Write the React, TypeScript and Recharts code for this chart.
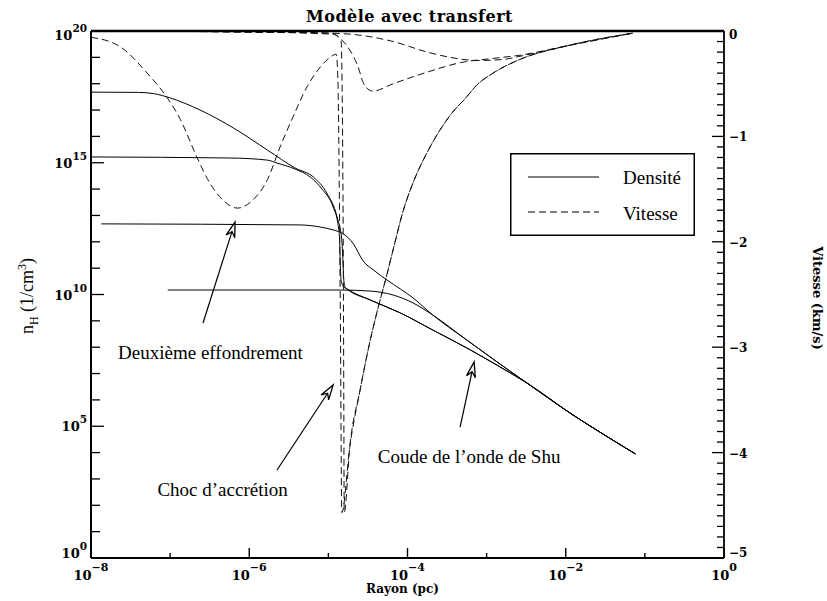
import React from "react";
import {
  LineChart,
  Line,
  XAxis,
  YAxis,
  ReferenceLine,
  ReferenceDot,
  Legend,
} from "recharts";

const W = 827;
const H = 601;
const HERSHEY = "'DejaVu Serif', 'Liberation Serif', serif";
const TIMES = "'Liberation Serif', 'Times New Roman', serif";
const DASH = "7 4";

// ── Data: x = log10(rayon / pc), y = log10(nH) or vitesse (km/s) ─────────────
// density tails shared by several profiles
const upperEnvelope = [
  [-3.93, 9.87], [-3.68, 9.22], [-3.25, 8.27], [-2.83, 7.36],
  [-2.49, 6.64], [-1.91, 5.43], [-1.57, 4.78], [-1.12, 3.95],
];
const lowerEnvelope = [
  [-4.76, 10.2], [-4.47, 9.79], [-4.09, 9.3], [-3.68, 8.65], [-3.25, 7.97],
  [-2.83, 7.25], [-2.49, 6.64], [-1.91, 5.43], [-1.57, 4.78], [-1.12, 3.95],
];

const densityP1 = [
  [-7.03, 10.17], [-4.85, 10.17], [-4.47, 10.13], [-4.18, 9.98], [-3.93, 9.68],
  [-3.68, 9.22], [-3.25, 8.27], [-2.83, 7.36], [-2.49, 6.64], [-1.91, 5.43],
  [-1.57, 4.78], [-1.12, 3.95],
];
const densityP2 = [
  [-7.87, 12.68], [-5.36, 12.64], [-5.1, 12.56], [-4.94, 12.45], [-4.81, 12.3],
  [-4.69, 11.95], [-4.56, 11.27], [-4.43, 10.93], [-4.26, 10.55], [-4.09, 10.21],
  ...upperEnvelope,
];
const densityP3 = [
  [-8, 15.22], [-6.24, 15.18], [-5.77, 15.1], [-5.65, 14.99], [-5.42, 14.76],
  [-5.23, 14.46], [-5.08, 14.0], [-4.94, 13.32], [-4.88, 12.7], [-4.86, 12.2],
  [-4.85, 11.2], [-4.84, 10.55], [-4.81, 10.3],
  ...lowerEnvelope,
];
const densityP4 = [
  [-8, 17.68], [-7.4, 17.67], [-7.2, 17.62], [-7.0, 17.46], [-6.62, 17.0],
  [-6.2, 16.32], [-5.77, 15.48], [-5.42, 14.8], [-5.19, 14.46], [-5.02, 13.85],
  [-4.89, 12.94], [-4.83, 12.07], [-4.815, 11.2], [-4.805, 10.55], [-4.79, 10.28],
  ...lowerEnvelope,
];

// velocity after the accretion shock (shared by the two last profiles)
const infallBranch = [
  [-4.73, -3.95], [-4.6, -3.41], [-4.47, -2.93], [-4.38, -2.65], [-4.26, -2.31],
  [-4.16, -2.01], [-4.06, -1.72], [-3.93, -1.44], [-3.75, -1.15], [-3.59, -0.94],
  [-3.44, -0.78], [-3.27, -0.64], [-3.12, -0.51], [-2.92, -0.4], [-2.58, -0.27],
  [-1.98, -0.14], [-1.15, -0.02],
];

const velocityA = [
  [-7.03, 0], [-5.99, -0.01], [-4.98, -0.02], [-4.6, -0.04], [-4.18, -0.1],
  [-3.75, -0.2], [-3.46, -0.25], [-3.12, -0.28], [-2.79, -0.27], [-2.58, -0.24],
  [-1.98, -0.14], [-1.15, -0.02],
];
const velocityB = [
  [-7.87, 0], [-5.99, -0.01], [-4.98, -0.02], [-4.83, -0.085], [-4.73, -0.18],
  [-4.62, -0.35], [-4.56, -0.49], [-4.5, -0.55], [-4.44, -0.57], [-4.18, -0.5],
  [-3.75, -0.39], [-3.33, -0.3], [-2.92, -0.26], [-2.58, -0.23], [-1.98, -0.14],
  [-1.15, -0.02],
];
const velocityC = [
  [-8, 0], [-5.99, -0.01], [-4.94, -0.03], [-4.84, -0.085], [-4.815, -1.6],
  [-4.805, -3.5], [-4.8, -4.57],
  ...infallBranch,
];
const velocityD = [
  [-8, -0.06], [-7.63, -0.15], [-7.29, -0.4], [-7.04, -0.63], [-6.87, -0.84],
  [-6.66, -1.2], [-6.5, -1.44], [-6.31, -1.62], [-6.15, -1.68], [-5.95, -1.6],
  [-5.77, -1.41], [-5.61, -1.1], [-5.45, -0.82], [-5.27, -0.53], [-5.1, -0.34],
  [-4.98, -0.25], [-4.9, -0.22], [-4.88, -0.46], [-4.85, -2.55], [-4.83, -4.57],
  ...infallBranch,
];

const densitySeries = [densityP1, densityP2, densityP3, densityP4];
const velocitySeries = [velocityA, velocityB, velocityC, velocityD];

const radiusTicks = [-8, -7, -6, -5, -4, -3, -2, -1, 0];
const densityTicks = [0, 1, 2, 3, 4, 5, 6, 7, 8, 9, 10, 11, 12, 13, 14, 15, 16, 17, 18, 19, 20];
const velocityTicks = Array.from({ length: 51 }, (_, i) => Math.round((-5 + i * 0.1) * 10) / 10);

const arrows = [
  { from: [-6.584, 8.92], to: [-6.18, 12.75] },
  { from: [-5.649, 3.34], to: [-4.94, 6.57] },
  { from: [-3.335, 4.97], to: [-3.158, 7.44] },
];
const notes = [
  { text: "Deuxième effondrement", at: [-6.49, 7.78] },
  { text: "Choc d’accrétion", at: [-6.337, 2.58] },
  { text: "Coude de l’onde de Shu", at: [-3.221, 3.83] },
];
const legendItems = [
  { label: "Densité", dash: undefined },
  { label: "Vitesse", dash: DASH },
];

const toPts = (a: number[][]) => a.map(([r, y]) => ({ r, y }));
const minus = (v: number) => (v < 0 ? "\u2212" + Math.abs(v) : String(v));

// ── Ticks ─────────────────────────────────────────────────────────────────────
function BottomTick({ x, y, payload }: any) {
  const v = payload.value;
  const major = v % 2 === 0;
  return (
    <g>
      <line x1={x} x2={x} y1={y} y2={y - (major ? 10 : 5)} stroke="#000" strokeWidth={1.4} />
      {major && (
        <text x={x} y={y + 22} textAnchor="middle" fontFamily={HERSHEY} fontWeight="bold" fontSize={13} fill="#000">
          10<tspan dy={-9} fontSize={11}>{minus(v)}</tspan>
        </text>
      )}
    </g>
  );
}

function TopTick({ x, y, payload }: any) {
  const major = payload.value % 2 === 0;
  return <line x1={x} x2={x} y1={y} y2={y + (major ? 11 : 5)} stroke="#000" strokeWidth={1.4} />;
}

function DensityTick({ x, y, payload }: any) {
  const v = payload.value;
  const major = v % 5 === 0;
  const base = v === 20 ? y + 9 : v === 0 ? y : y + 5;
  return (
    <g>
      <line x1={x} x2={x + (major ? 13 : 9)} y1={y} y2={y} stroke="#000" strokeWidth={1.3} />
      {major && (
        <text x={x - 4} y={base} textAnchor="end" fontFamily={HERSHEY} fontWeight="bold" fontSize={13} fill="#000">
          10<tspan dy={-8} fontSize={10.5}>{v}</tspan>
        </text>
      )}
    </g>
  );
}

function VelocityTick({ x, y, payload }: any) {
  const v = payload.value;
  const major = Number.isInteger(v);
  const base = v === 0 ? y + 8 : v === -5 ? y - 1 : y + 5;
  return (
    <g>
      <line x1={x} x2={x - (major ? 12 : 7)} y1={y} y2={y} stroke="#000" strokeWidth={1.3} />
      {major && (
        <text x={x + 5} y={base} fontFamily={HERSHEY} fontWeight="bold" fontSize={12} fill="#000">
          {minus(v)}
        </text>
      )}
    </g>
  );
}

// ── Axis titles ───────────────────────────────────────────────────────────────
function TitleLabel({ viewBox }: any) {
  return (
    <text x={viewBox.x + viewBox.width / 2 + 2} y={viewBox.y + viewBox.height - 9} textAnchor="middle" fontFamily={HERSHEY} fontWeight="bold" fontSize={16} letterSpacing={0.5} fill="#000">
      Modèle avec transfert
    </text>
  );
}

function RadiusLabel({ viewBox }: any) {
  return (
    <text x={viewBox.x + viewBox.width / 2 - 5} y={viewBox.y + 35} textAnchor="middle" fontFamily={HERSHEY} fontWeight="bold" fontSize={12} fill="#000">
      Rayon (pc)
    </text>
  );
}

function DensityLabel() {
  const x = 33;
  const y = 296;
  return (
    <text x={x} y={y} transform={`rotate(-90 ${x} ${y})`} textAnchor="middle" fontFamily={TIMES} fontSize={18} fill="#000">
      n<tspan dy={5} fontSize={12}>H</tspan>
      <tspan dy={-5}> (1/cm</tspan>
      <tspan dy={-7} fontSize={12}>3</tspan>
      <tspan dy={7}>)</tspan>
    </text>
  );
}

function VelocityLabel() {
  const x = 813;
  const y = 298;
  return (
    <text x={x} y={y} transform={`rotate(90 ${x} ${y})`} textAnchor="middle" fontFamily={HERSHEY} fontWeight="bold" fontSize={13} fill="#000">
      Vitesse (km/s)
    </text>
  );
}

// ── Annotations ───────────────────────────────────────────────────────────────
function ArrowShape(props: any) {
  const { x1, y1, x2, y2 } = props;
  const dx = x2 - x1;
  const dy = y2 - y1;
  const len = Math.hypot(dx, dy) || 1;
  const ux = dx / len;
  const uy = dy / len;
  const px = -uy;
  const py = ux;
  const L = 15;
  const Wd = 4.5;
  const N = 10;
  const pts = [
    [x2, y2],
    [x2 - ux * L + px * Wd, y2 - uy * L + py * Wd],
    [x2 - ux * N, y2 - uy * N],
    [x2 - ux * L - px * Wd, y2 - uy * L - py * Wd],
  ];
  return (
    <g>
      <line x1={x1} y1={y1} x2={x2 - ux * N} y2={y2 - uy * N} stroke="#000" strokeWidth={1.2} />
      <polygon points={pts.map((p) => p.join(",")).join(" ")} fill="#fff" stroke="#000" strokeWidth={1.3} strokeLinejoin="miter" />
    </g>
  );
}

function NoteShape(text: string) {
  return (props: any) => (
    <text x={props.cx} y={props.cy + 6} textAnchor="middle" fontFamily={TIMES} fontSize={19} fill="#000">
      {text}
    </text>
  );
}

function LegendBox() {
  return (
    <div style={{ width: 185, height: 83, position: "relative", background: "#fff" }}>
      <svg width={185} height={83} style={{ position: "absolute", left: 0, top: 0 }}>
        <rect x={0.75} y={0.75} width={183.5} height={81.5} fill="#fff" stroke="#000" strokeWidth={1.5} />
        {legendItems.map((item, i) => (
          <g key={item.label}>
            <line x1={18} x2={89} y1={24 + i * 35} y2={24 + i * 35} stroke="#000" strokeWidth={1.1} strokeDasharray={item.dash} />
            <text x={113} y={31 + i * 36} fontFamily={TIMES} fontSize={19} fill="#000">
              {item.label}
            </text>
          </g>
        ))}
      </svg>
    </div>
  );
}

// ── Main Component ────────────────────────────────────────────────────────────
// plot area: x 91..724, y 31..558
export default function App() {
  return (
    <div style={{ position: "absolute", left: 0, top: 0, width: W, height: H, background: "#fff" }}>
      <LineChart width={W} height={H} margin={{ top: 11, right: 43, bottom: 3, left: 31 }}>
        <XAxis
          xAxisId="b"
          dataKey="r"
          type="number"
          domain={[-8, 0]}
          ticks={radiusTicks}
          interval={0}
          height={40}
          tickSize={0}
          tickMargin={0}
          tickLine={false}
          tick={<BottomTick />}
          axisLine={{ stroke: "#000", strokeWidth: 2 }}
          allowDataOverflow
          label={RadiusLabel}
        />
        <XAxis
          xAxisId="t"
          orientation="top"
          type="number"
          domain={[-8, 0]}
          ticks={radiusTicks}
          interval={0}
          height={20}
          tickSize={0}
          tickMargin={0}
          tickLine={false}
          tick={<TopTick />}
          axisLine={{ stroke: "#000", strokeWidth: 2.5 }}
          allowDataOverflow
          label={TitleLabel}
        />
        <YAxis
          yAxisId="n"
          type="number"
          domain={[0, 20]}
          ticks={densityTicks}
          interval={0}
          width={60}
          tickSize={0}
          tickMargin={0}
          tickLine={false}
          tick={<DensityTick />}
          axisLine={{ stroke: "#000", strokeWidth: 2 }}
          allowDataOverflow
          label={DensityLabel}
        />
        <YAxis
          yAxisId="v"
          orientation="right"
          type="number"
          domain={[-5, 0]}
          ticks={velocityTicks}
          interval={0}
          width={60}
          tickSize={0}
          tickMargin={0}
          tickLine={false}
          tick={<VelocityTick />}
          axisLine={{ stroke: "#000", strokeWidth: 1.8 }}
          allowDataOverflow
          label={VelocityLabel}
        />

        {densitySeries.map((s, i) => (
          <Line
            key={`n${i}`}
            xAxisId="b"
            yAxisId="n"
            data={toPts(s)}
            dataKey="y"
            type="monotone"
            stroke="#000"
            strokeWidth={1}
            dot={false}
            activeDot={false}
            isAnimationActive={false}
            legendType="none"
          />
        ))}
        {velocitySeries.map((s, i) => (
          <Line
            key={`v${i}`}
            xAxisId="b"
            yAxisId="v"
            data={toPts(s)}
            dataKey="y"
            type="monotone"
            stroke="#111"
            strokeWidth={1}
            strokeDasharray={DASH}
            dot={false}
            activeDot={false}
            isAnimationActive={false}
            legendType="none"
          />
        ))}

        {arrows.map((a, i) => (
          <ReferenceLine
            key={`a${i}`}
            xAxisId="b"
            yAxisId="n"
            segment={[
              { x: a.from[0], y: a.from[1] },
              { x: a.to[0], y: a.to[1] },
            ]}
            stroke="#000"
            shape={ArrowShape}
          />
        ))}
        {notes.map((n) => (
          <ReferenceDot
            key={n.text}
            xAxisId="b"
            yAxisId="n"
            x={n.at[0]}
            y={n.at[1]}
            r={0}
            shape={NoteShape(n.text)}
          />
        ))}

        <Legend
          layout="vertical"
          align="center"
          verticalAlign="middle"
          content={LegendBox}
          wrapperStyle={{ left: 510, top: 153, width: 185, height: 83 }}
        />
      </LineChart>
    </div>
  );
}
